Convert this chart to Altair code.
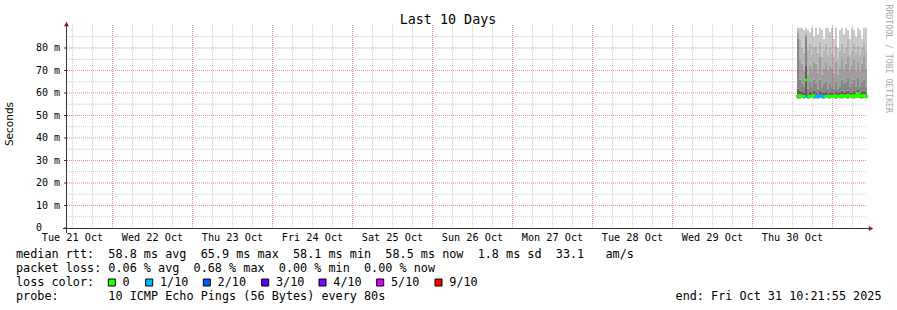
import altair as alt
import pandas as pd

# ---------------- data ----------------
# time axis in hours since Tue 21 Oct 00:00
t_start = 10.35           # Tue 21 Oct ~10:21
t_end = 250.35            # Fri 31 Oct 10:21:55
col_t0 = 229.35           # first column with samples
col_dt = 0.6              # column width (hours)

# sorted-ping quantiles per column (ms): lowest, p6, p7, p8, p9, max
ping_lo = [57.6, 57.7, 57.8, 57.6, 57.9, 57.6, 57.7, 57.8, 57.6, 57.7,
           57.6, 57.8, 57.7, 57.6, 57.8, 57.7, 57.6, 57.8, 57.7, 57.6,
           57.8, 57.7, 57.6, 57.8, 57.7, 57.6, 57.8, 57.7, 57.6, 57.8,
           57.9, 57.7, 57.6, 57.8, 57.7]
ping_p6 = [62, 61, 60.5, 60, 72, 59.5, 60.5, 60, 61, 60,
           59.5, 61, 60, 60, 60.5, 59.5, 60, 60, 59.5, 60.5,
           60, 60, 61, 60, 60.5, 61, 60, 60, 61, 60,
           61.5, 60, 60.5, 61, 60]
ping_p7 = [84, 66, 64, 63, 85, 62, 65, 63, 66, 64,
           62, 66, 63, 64, 65, 62, 64, 63, 62, 65,
           62, 63, 66, 64, 65, 67, 63, 64, 66, 63,
           67, 63, 65, 66, 63]
ping_p8 = [87, 75, 73, 70, 86, 68, 72, 70, 74, 73,
           69, 76, 68, 71, 74, 70, 72, 71, 69, 74,
           68, 71, 75, 70, 73, 76, 70, 72, 75, 70,
           74, 70, 73, 76, 71]
ping_p9 = [88, 84, 80, 78, 87, 79, 82, 77, 80, 81,
           78, 83, 76, 79, 82, 77, 80, 78, 76, 81,
           75, 79, 82, 78, 80, 84, 77, 79, 82, 78,
           81, 77, 80, 83, 79]
ping_max = [89, 89, 89, 88, 89, 88, 87, 89, 85, 89,
            86, 89, 88, 84, 89, 89, 87, 89, 84, 89,
            80, 88, 89, 86, 89, 88, 84, 89, 88, 85,
            89, 88, 84, 89, 89]
median = [58.6, 58.8, 58.5, 58.4, 65.8, 58.3, 58.6, 58.5, 58.9, 58.4,
          58.3, 58.7, 58.4, 58.3, 58.5, 58.4, 58.6, 58.5, 58.3, 58.7,
          58.4, 58.5, 58.8, 58.4, 58.6, 59.0, 58.4, 58.5, 58.8, 58.4,
          59.8, 58.5, 58.6, 58.9, 58.5]
loss = [0, 0, 0, 0, 0, 1, 0, 0, 0, 1,
        1, 1, 1, 1, 0, 0, 0, 0, 0, 0,
        0, 0, 0, 0, 0, 0, 0, 0, 0, 0,
        0, 0, 0, 0, 0]

loss_levels = [0, 1, 2, 3, 4, 5, 9]
loss_labels = ["0", "1/10", "2/10", "3/10", "4/10", "5/10", "9/10"]
loss_colors = ["#26ff00", "#00b8ff", "#0059ff", "#5e00ff", "#7e00ff", "#dd00ff", "#ff0000"]
smoke_shades = ["#5e5e5e", "#868686", "#9e9e9e", "#b5b5b5", "#cbcbcb"]

day_labels = ["Tue 21 Oct", "Wed 22 Oct", "Thu 23 Oct", "Fri 24 Oct", "Sat 25 Oct",
              "Sun 26 Oct", "Mon 27 Oct", "Tue 28 Oct", "Wed 29 Oct", "Thu 30 Oct"]
y_ticks = [0, 10, 20, 30, 40, 50, 60, 70, 80]
y_minor = [5, 15, 25, 35, 45, 55, 65, 75, 85]

title_text = "Last 10 Days"
legend_rows = [
    "median rtt:  58.8 ms avg  65.9 ms max  58.1 ms min  58.5 ms now  1.8 ms sd  33.1   am/s",
    "packet loss: 0.06 % avg  0.68 % max  0.00 % min  0.00 % now",
    "loss color:",
    "probe:       10 ICMP Echo Pings (56 Bytes) every 80s",
]
end_text = "end: Fri Oct 31 10:21:55 2025"
side_text = "RRDTOOL / TOBI OETIKER"

# ---------------- layout ----------------
W, H = 800, 202.5
PAD_L, PAD_T = 67, 25.5
MONO = "DejaVu Sans Mono"
NB = "\u00a0"

xs = alt.Scale(domain=[t_start, t_end], nice=False, zero=False)
ys = alt.Scale(domain=[0, 90], nice=False, zero=False)


def X(f):
    return alt.X(f, type="quantitative", scale=xs, axis=None)


def Y(f):
    return alt.Y(f, type="quantitative", scale=ys, axis=None)


n = len(median)
t0 = [col_t0 + i * col_dt for i in range(n)]
t1 = [t + col_dt for t in t0]

# smoke
rows = []
bounds = [ping_lo, ping_p6, ping_p7, ping_p8, ping_p9, ping_max]
for i in range(n):
    for k in range(5):
        rows.append({"t0": t0[i], "t1": t1[i], "y0": bounds[k][i], "y1": bounds[k + 1][i], "layer": k})
smoke_df = pd.DataFrame(rows)
smoke = alt.Chart(smoke_df).mark_rect(strokeWidth=0).encode(
    x=X("t0"), x2="t1", y=Y("y0"), y2="y1",
    color=alt.Color("layer:O", scale=alt.Scale(domain=list(range(5)), range=smoke_shades), legend=None),
)

# grid (dotted)
one = pd.DataFrame({"a": [0]})
minor_h = alt.Chart(pd.DataFrame({"v": y_minor})).mark_rule(
    color="#9a9a9a", opacity=0.5, strokeDash=[1, 1], strokeWidth=1).encode(
    y=Y("v"), x=alt.value(0), x2=alt.value(W))
hours_minor = [h for h in range(12, 251, 6) if h % 24 != 0 and t_start < h < t_end]
minor_v = alt.Chart(pd.DataFrame({"h": hours_minor})).mark_rule(
    color="#9a9a9a", opacity=0.5, strokeDash=[1, 1], strokeWidth=1).encode(
    x=X("h"), y=alt.value(-0.5), y2=alt.value(H - 0.5))
major_h = alt.Chart(pd.DataFrame({"v": y_ticks[1:]})).mark_rule(
    color="#d83030", opacity=0.55, strokeDash=[1, 1], strokeWidth=1).encode(
    y=Y("v"), x=alt.value(0), x2=alt.value(W))
hours_major = [h for h in range(24, 251, 24) if t_start < h < t_end]
major_v = alt.Chart(pd.DataFrame({"h": hours_major})).mark_rule(
    color="#d83030", opacity=0.55, strokeDash=[1, 1], strokeWidth=1).encode(
    x=X("h"), y=alt.value(-0.5), y2=alt.value(H - 0.5))

# median line coloured by loss
color_of = dict(zip(loss_levels, loss_colors))
med_df = pd.DataFrame({"t0": t0, "t1": t1, "m": median, "c": [color_of[l] for l in loss]})
med_h = alt.Chart(med_df).mark_rule(strokeWidth=2.5, strokeCap="square").encode(
    x=X("t0"), x2="t1", y=Y("m"), color=alt.Color("c:N", scale=None))
conn = []
for i in range(n - 1):
    if loss[i] == loss[i + 1] and abs(median[i] - median[i + 1]) < 3:
        conn.append({"t": t1[i], "a": median[i], "b": median[i + 1], "c": color_of[loss[i]]})
med_v = alt.Chart(pd.DataFrame(conn)).mark_rule(strokeWidth=2.5, strokeCap="square").encode(
    x=X("t"), y=Y("a"), y2="b", color=alt.Color("c:N", scale=None))

# axes
axis_col = "#333333"
arrow_col = "#8b1c1c"
x_axis = alt.Chart(one).mark_rule(color=axis_col, strokeWidth=1).encode(
    x=alt.value(-4), x2=alt.value(W + 3), y=alt.value(H + 0.5))
y_axis = alt.Chart(one).mark_rule(color=axis_col, strokeWidth=1).encode(
    x=alt.value(-0.5), y=alt.value(-2), y2=alt.value(H + 5))
y_tk = alt.Chart(pd.DataFrame({"v": y_ticks})).mark_rule(color=axis_col, strokeWidth=1).encode(
    y=Y("v"), x=alt.value(-3), x2=alt.value(0))
arrow_up = alt.Chart(one).mark_point(shape="triangle-up", filled=True, size=26, color=arrow_col, opacity=1).encode(
    x=alt.value(-0.5), y=alt.value(-1.5))
arrow_right = alt.Chart(one).mark_point(shape="triangle-right", filled=True, size=26, color=arrow_col, opacity=1).encode(
    x=alt.value(W + 4), y=alt.value(H + 0.5))

# text
y_lab = alt.Chart(pd.DataFrame({"v": y_ticks, "lab": ["0" if v == 0 else f"{v}{NB}m" for v in y_ticks]})).mark_text(
    font=MONO, fontSize=10, align="left", baseline="middle", color="#000").encode(
    y=Y("v"), x=alt.value(-31), text="lab:N")
x_lab = alt.Chart(pd.DataFrame({"h": [12 + 24 * k for k in range(len(day_labels))],
                                "lab": [s.replace(" ", NB) for s in day_labels]})).mark_text(
    font=MONO, fontSize=10.2, align="center", baseline="alphabetic", color="#000").encode(
    x=X("h"), y=alt.value(215.3), text="lab:N")
title = alt.Chart(pd.DataFrame({"s": [title_text.replace(" ", NB)]})).mark_text(
    font=MONO, fontSize=13.4, align="center", baseline="alphabetic", color="#000").encode(
    x=alt.value(448 - PAD_L), y=alt.value(23.5 - PAD_T), text="s:N")
seconds = alt.Chart(pd.DataFrame({"s": ["Seconds"]})).mark_text(
    font="DejaVu Sans", fontSize=10.5, align="center", baseline="middle", angle=270, color="#000").encode(
    x=alt.value(9.5 - PAD_L), y=alt.value(124 - PAD_T), text="s:N")
side = alt.Chart(pd.DataFrame({"s": [side_text.replace(" ", NB)]})).mark_text(
    font=MONO, fontSize=8.2, align="left", baseline="middle", angle=90, color="#aaaaaa").encode(
    x=alt.value(887.5 - PAD_L), y=alt.value(4.5 - PAD_T), text="s:N")

row_base = [258.3, 272.3, 286.3, 300.3]
leg_df = pd.DataFrame({"s": [r.replace(" ", NB) for r in legend_rows],
                       "y": [b - PAD_T for b in row_base]})
legend_text = alt.Chart(leg_df).mark_text(
    font=MONO, fontSize=11.8, align="left", baseline="alphabetic", color="#000").encode(
    x=alt.value(16 - PAD_L), y=alt.Y("y:Q", scale=None), text="s:N")
end_lbl = alt.Chart(pd.DataFrame({"s": [end_text.replace(" ", NB)]})).mark_text(
    font=MONO, fontSize=11.8, align="right", baseline="alphabetic", color="#000").encode(
    x=alt.value(881.5 - PAD_L), y=alt.value(row_base[3] - PAD_T), text="s:N")

box_centers = [111.8, 149.2, 206.8, 265.2, 322.5, 380.2, 438.5]
box_df = pd.DataFrame({"bx": [c - PAD_L for c in box_centers], "tx": [c + 10.8 - PAD_L for c in box_centers],
                       "c": loss_colors, "lab": loss_labels})
boxes = alt.Chart(box_df).mark_square(size=49, filled=True, stroke="#000", strokeWidth=1, opacity=1).encode(
    x=alt.X("bx:Q", scale=None), y=alt.value(282.5 - PAD_T), fill=alt.Fill("c:N", scale=None))
box_txt = alt.Chart(box_df).mark_text(
    font=MONO, fontSize=11.8, align="left", baseline="alphabetic", color="#000").encode(
    x=alt.X("tx:Q", scale=None), y=alt.value(row_base[2] - PAD_T), text="lab:N")

chart = alt.layer(
    smoke, minor_h, minor_v, major_h, major_v, med_h, med_v,
    x_axis, y_axis, y_tk, arrow_up, arrow_right,
    y_lab, x_lab, title, seconds, side, legend_text, end_lbl, boxes, box_txt,
).properties(
    width=W, height=H,
    autosize=alt.AutoSizeParams(type="none"),
    padding={"left": PAD_L, "top": PAD_T, "right": 897 - PAD_L - W, "bottom": 310 - PAD_T - H},
    background="white",
).configure_view(strokeWidth=0)

chart.save("out.html", embed_options={"renderer": "svg", "actions": False})
